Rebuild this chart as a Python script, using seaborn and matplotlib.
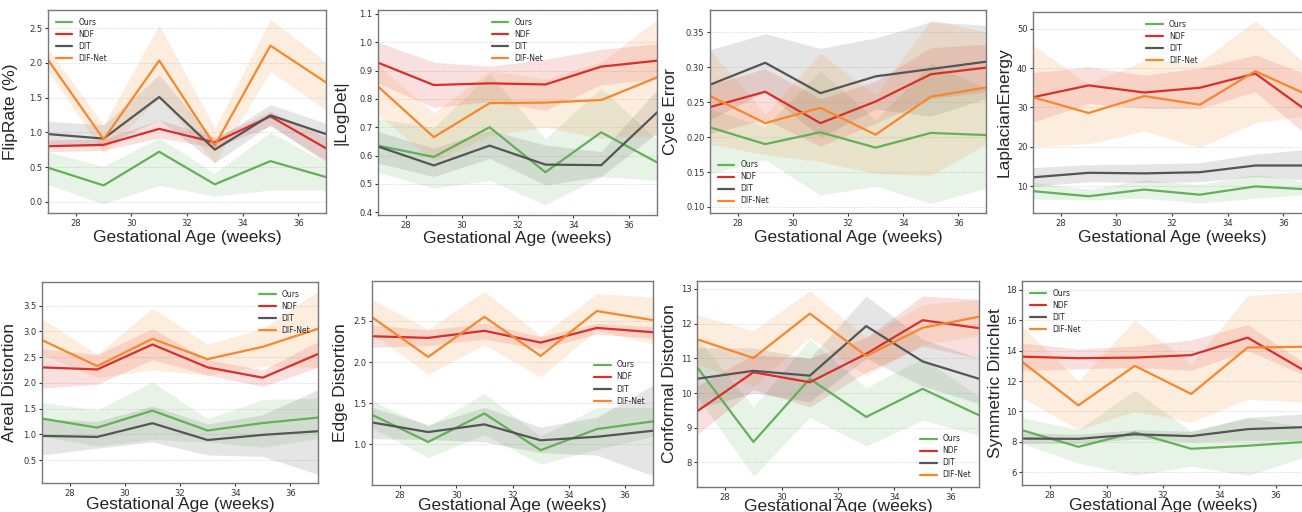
import numpy as np
import pandas as pd
import matplotlib
matplotlib.use("Agg")
import matplotlib.pyplot as plt
import seaborn as sns

# ------------------------------------------------------------
# Donnees (moyenne, borne basse, borne haute)
# ------------------------------------------------------------
weeks = [27, 29, 31, 33, 35, 37]
methods = ["Ours", "NDF", "DIT", "DIF-Net"]
colors = {"Ours": "#62b058", "NDF": "#d7302a", "DIT": "#555555", "DIF-Net": "#f7872a"}

# FlipRate (%)
flip_mean = {"Ours": [0.49, 0.235, 0.72, 0.25, 0.585, 0.355],
             "NDF": [0.80, 0.82, 1.05, 0.855, 1.23, 0.77],
             "DIT": [0.975, 0.91, 1.51, 0.75, 1.245, 0.975],
             "DIF-Net": [2.045, 0.90, 2.035, 0.81, 2.25, 1.72]}
flip_lo = {"Ours": [0.245, -0.03, 0.235, 0.08, 0.165, 0.165],
           "NDF": [0.72, 0.74, 0.92, 0.78, 1.09, 0.60],
           "DIT": [0.80, 0.80, 1.18, 0.56, 1.11, 0.56],
           "DIF-Net": [1.88, 0.70, 1.50, 0.56, 1.88, 1.32]}
flip_hi = {"Ours": [0.72, 0.51, 0.92, 0.41, 1.00, 0.56],
           "NDF": [0.89, 0.90, 1.18, 0.93, 1.30, 0.93],
           "DIT": [1.16, 1.11, 1.83, 0.89, 1.40, 1.13],
           "DIF-Net": [2.21, 1.11, 2.55, 1.06, 2.63, 2.02]}

# |LogDet|
logdet_mean = {"Ours": [0.635, 0.595, 0.70, 0.541, 0.682, 0.576],
               "NDF": [0.928, 0.849, 0.855, 0.851, 0.914, 0.935],
               "DIT": [0.632, 0.565, 0.635, 0.568, 0.566, 0.752],
               "DIF-Net": [0.844, 0.665, 0.785, 0.787, 0.796, 0.876]}
logdet_lo = {"Ours": [0.54, 0.485, 0.512, 0.426, 0.526, 0.512],
             "NDF": [0.855, 0.77, 0.79, 0.76, 0.85, 0.87],
             "DIT": [0.573, 0.526, 0.59, 0.496, 0.526, 0.68],
             "DIF-Net": [0.744, 0.58, 0.67, 0.70, 0.66, 0.67]}
logdet_hi = {"Ours": [0.73, 0.70, 0.888, 0.66, 0.838, 0.655],
             "NDF": [1.00, 0.93, 0.915, 0.94, 0.975, 0.995],
             "DIT": [0.685, 0.626, 0.69, 0.637, 0.614, 0.832],
             "DIF-Net": [0.92, 0.75, 0.90, 0.87, 0.93, 1.08]}

# Cycle Error
cycle_mean = {"Ours": [0.214, 0.190, 0.207, 0.185, 0.206, 0.203],
              "NDF": [0.243, 0.265, 0.220, 0.251, 0.290, 0.2995],
              "DIT": [0.275, 0.3065, 0.263, 0.287, 0.2975, 0.308],
              "DIF-Net": [0.259, 0.220, 0.242, 0.2035, 0.258, 0.271]}
cycle_lo = {"Ours": [0.147, 0.168, 0.117, 0.13, 0.105, 0.127],
            "NDF": [0.205, 0.225, 0.187, 0.22, 0.255, 0.265],
            "DIT": [0.225, 0.265, 0.20, 0.24, 0.23, 0.255],
            "DIF-Net": [0.19, 0.175, 0.165, 0.148, 0.145, 0.19]}
cycle_hi = {"Ours": [0.24, 0.215, 0.295, 0.225, 0.305, 0.27],
            "NDF": [0.275, 0.298, 0.255, 0.28, 0.328, 0.333],
            "DIT": [0.325, 0.348, 0.327, 0.342, 0.365, 0.36],
            "DIF-Net": [0.325, 0.233, 0.32, 0.26, 0.368, 0.35]}

# LaplacianEnergy
lap_mean = {"Ours": [8.8, 7.5, 9.2, 7.9, 10.0, 9.2],
            "NDF": [32.6, 35.6, 33.8, 35.0, 38.6, 28.4],
            "DIT": [12.3, 13.45, 13.3, 13.6, 15.3, 15.3],
            "DIF-Net": [32.6, 28.6, 32.9, 30.7, 39.2, 32.8]}
lap_lo = {"Ours": [6.8, 6.6, 7.0, 5.8, 7.0, 8.0],
          "NDF": [26.3, 31.0, 29.8, 29.7, 34.0, 22.0],
          "DIT": [10.0, 11.2, 11.0, 11.2, 12.5, 11.5],
          "DIF-Net": [20.0, 20.8, 24.0, 19.8, 26.2, 28.0]}
lap_hi = {"Ours": [11.0, 9.3, 11.7, 10.5, 13.0, 11.0],
          "NDF": [38.8, 40.3, 38.2, 40.0, 43.3, 38.0],
          "DIT": [14.8, 15.5, 15.7, 16.0, 18.2, 19.5],
          "DIF-Net": [45.8, 36.0, 41.8, 41.5, 52.0, 40.0]}

# Areal Distortion
areal_mean = {"Ours": [1.306, 1.13, 1.46, 1.074, 1.22, 1.325],
              "NDF": [2.30, 2.26, 2.745, 2.30, 2.10, 2.56],
              "DIT": [0.97, 0.95, 1.216, 0.89, 0.99, 1.06],
              "DIF-Net": [2.83, 2.325, 2.855, 2.46, 2.70, 3.05]}
areal_lo = {"Ours": [0.96, 0.77, 0.90, 0.85, 0.75, 0.92],
            "NDF": [1.90, 1.97, 2.45, 2.15, 1.93, 2.30],
            "DIT": [0.60, 0.73, 0.85, 0.60, 0.57, 0.22],
            "DIF-Net": [2.55, 2.10, 2.25, 2.15, 2.33, 2.30]}
areal_hi = {"Ours": [1.62, 1.47, 2.02, 1.30, 1.68, 1.70],
            "NDF": [2.66, 2.55, 3.05, 2.45, 2.25, 2.80],
            "DIT": [1.30, 1.25, 1.55, 1.20, 1.38, 1.87],
            "DIF-Net": [3.25, 2.55, 3.45, 2.75, 3.05, 3.78]}

# Edge Distortion
edge_mean = {"Ours": [1.36, 1.03, 1.376, 0.93, 1.186, 1.28],
             "NDF": [2.314, 2.294, 2.38, 2.237, 2.415, 2.363],
             "DIT": [1.267, 1.15, 1.243, 1.05, 1.093, 1.166],
             "DIF-Net": [2.545, 2.063, 2.55, 2.075, 2.62, 2.51]}
edge_lo = {"Ours": [1.20, 0.84, 1.12, 0.76, 0.94, 1.10],
           "NDF": [2.18, 2.20, 2.28, 2.16, 2.34, 2.29],
           "DIT": [1.07, 1.06, 1.03, 0.90, 0.87, 0.62],
           "DIF-Net": [2.35, 1.85, 2.21, 1.82, 2.39, 2.22]}
edge_hi = {"Ours": [1.53, 1.22, 1.62, 1.10, 1.45, 1.45],
           "NDF": [2.45, 2.39, 2.47, 2.31, 2.47, 2.43],
           "DIT": [1.45, 1.24, 1.45, 1.21, 1.33, 1.72],
           "DIF-Net": [2.76, 2.40, 2.86, 2.32, 2.83, 2.79]}

# Conformal Distortion
conf_mean = {"Ours": [10.75, 8.59, 10.41, 9.31, 10.12, 9.36],
             "NDF": [9.47, 10.6, 10.31, 11.13, 12.1, 11.87],
             "DIT": [10.41, 10.64, 10.5, 11.93, 10.91, 10.41],
             "DIF-Net": [11.55, 11.01, 12.29, 11.07, 11.88, 12.2]}
conf_lo = {"Ours": [9.9, 7.6, 9.3, 8.47, 9.22, 8.78],
           "NDF": [8.8, 10.1, 9.6, 10.6, 11.35, 11.0],
           "DIT": [9.55, 10.0, 9.75, 11.0, 10.2, 9.7],
           "DIF-Net": [10.85, 10.2, 11.6, 10.5, 11.4, 11.65]}
conf_hi = {"Ours": [11.6, 9.6, 11.55, 10.15, 11.0, 9.9],
           "NDF": [10.2, 11.1, 11.0, 11.6, 12.8, 12.7],
           "DIT": [11.3, 11.3, 11.0, 12.8, 11.55, 11.0],
           "DIF-Net": [12.25, 11.8, 12.95, 11.6, 12.55, 12.7]}

# Symmetric Dirichlet
sd_mean = {"Ours": [8.77, 7.68, 8.62, 7.55, 7.75, 8.0],
           "NDF": [13.6, 13.5, 13.54, 13.7, 14.85, 12.7],
           "DIT": [8.22, 8.2, 8.5, 8.38, 8.84, 8.97],
           "DIF-Net": [13.27, 10.4, 13.0, 11.15, 14.2, 14.25]}
sd_lo = {"Ours": [7.9, 6.6, 5.8, 6.4, 5.8, 7.0],
         "NDF": [12.7, 12.8, 12.9, 12.7, 14.0, 12.4],
         "DIT": [7.9, 7.9, 8.2, 8.0, 8.1, 8.1],
         "DIF-Net": [10.9, 8.8, 10.0, 9.3, 10.8, 10.6]}
sd_hi = {"Ours": [9.6, 8.8, 11.4, 8.7, 9.6, 9.0],
         "NDF": [14.5, 14.1, 14.3, 14.7, 15.7, 13.2],
         "DIT": [8.6, 8.5, 8.8, 8.7, 9.6, 9.85],
         "DIF-Net": [15.6, 12.0, 16.0, 13.1, 17.6, 17.9]}

panels = [
    # (ylabel, mean, lo, hi, ylim, yticks, legend loc)
    ("FlipRate (%)", flip_mean, flip_lo, flip_hi, (-0.163, 2.764), np.arange(0, 2.51, 0.5), "upper left"),
    ("|LogDet|", logdet_mean, logdet_lo, logdet_hi, (0.39, 1.114), np.arange(0.4, 1.11, 0.1), "upper center"),
    ("Cycle Error", cycle_mean, cycle_lo, cycle_hi, (0.0914, 0.382), np.arange(0.10, 0.351, 0.05), "lower left"),
    ("LaplacianEnergy", lap_mean, lap_lo, lap_hi, (3.26, 54.2), np.arange(10, 51, 10), "upper center"),
    ("Areal Distortion", areal_mean, areal_lo, areal_hi, (0.055, 3.958), np.arange(0.5, 3.51, 0.5), "upper right"),
    ("Edge Distortion", edge_mean, edge_lo, edge_hi, (0.507, 2.985), np.arange(1.0, 2.51, 0.5), "center right"),
    ("Conformal Distortion", conf_mean, conf_lo, conf_hi, (7.29, 13.23), np.arange(8, 13.1, 1), "lower right"),
    ("Symmetric Dirichlet", sd_mean, sd_lo, sd_hi, (5.17, 18.57), np.arange(6, 18.1, 2), "upper left"),
]

# position des axes en pixels : gauche, droite, haut, bas, decalage ylabel, decalage xlabel
boxes = [
    (48, 326, 10, 213, 30, 17),
    (378, 657, 10, 215, 30, 16),
    (710, 986, 10, 213, 32, 17),
    (1033, 1311, 12, 213, 21, 17),
    (42, 318, 282, 483, 25, 14),
    (372, 653, 281, 485, 24, 13),
    (697, 979, 281, 487, 20, 12),
    (1022, 1304, 281, 485, 19, 13),
]

W, H = 1302, 512
sns.set_theme(style="white")
plt.rcParams["font.family"] = ["DejaVu Sans"]
fig = plt.figure(figsize=(W / 100, H / 100), dpi=100)

for (ylabel, mean, lo, hi, ylim, yticks, loc), (l, r, t, b, yoff, xoff) in zip(panels, boxes):
    ax = fig.add_axes([l / W, 1 - b / H, (r - l) / W, (b - t) / H])
    rows = []
    for m in methods:
        for w, v in zip(weeks, mean[m]):
            rows.append({"week": w, "value": v, "method": m})
    df = pd.DataFrame(rows)
    for m in methods:
        ax.fill_between(weeks, lo[m], hi[m], color=colors[m], alpha=0.15, lw=0)
    sns.lineplot(data=df, x="week", y="value", hue="method", hue_order=methods,
                 palette=colors, lw=1.6, ax=ax)
    ax.set_xlim(27, 37)
    ax.set_ylim(*ylim)
    ax.set_xticks([28, 30, 32, 34, 36])
    ax.set_yticks(yticks)
    ax.tick_params(axis="both", labelsize=6, length=2.5, width=0.8, colors="#333333",
                   direction="out", left=True, bottom=True, pad=1.5)
    ax.grid(axis="y", color="#dddddd", lw=0.5, ls="--")
    for s in ax.spines.values():
        s.set_color("#777777")
        s.set_linewidth(1.0)
    ax.set_xlabel("Gestational Age (weeks)", fontsize=12.5, family="Liberation Sans")
    ax.set_ylabel(ylabel, fontsize=12.5, family="Liberation Sans")
    ax.yaxis.set_label_coords(-yoff / (r - l), 0.5)
    ax.xaxis.set_label_coords(0.5, -xoff / (b - t))
    ax.legend(loc=loc, fontsize=5.5, frameon=False, handlelength=2.2,
              labelspacing=0.4, borderaxespad=0.6)

fig.savefig("out.png", dpi=100)
plt.close()
